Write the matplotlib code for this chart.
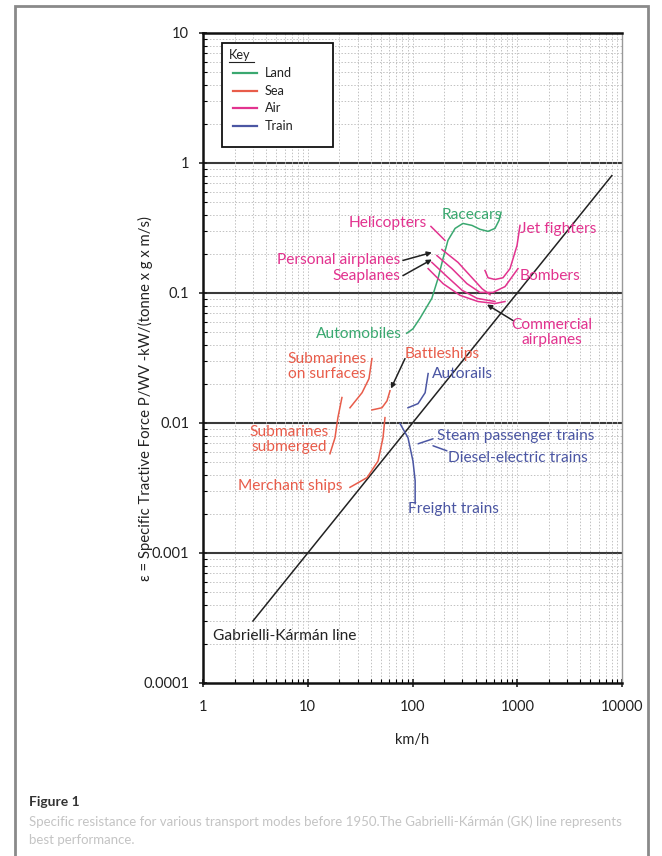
import numpy as np
import matplotlib
matplotlib.use("Agg")
import matplotlib.pyplot as plt
from matplotlib.lines import Line2D
from matplotlib.patches import Rectangle

plt.rcParams['font.family'] = ['Lato', 'DejaVu Sans']

# colours per transport mode
LAND = '#3aa870'
SEA = '#e85c4a'
AIR = '#e2338f'
TRAIN = '#4b56a3'

# ---- data (speed km/h, specific resistance) ----
# Gabrielli-Karman line
gk_speed = [3, 8000]
gk_eps = [0.0003, 0.8]

# land: automobiles running into racecars
auto_speed = [88, 101, 118, 153, 175, 196, 218, 255, 303, 370, 441, 526, 613, 670, 700]
auto_eps = [0.049, 0.053, 0.064, 0.091, 0.129, 0.185, 0.254, 0.314, 0.343, 0.331,
            0.309, 0.298, 0.314, 0.362, 0.417]

# air
heli_speed = [150, 204]
heli_eps = [0.325, 0.254]
air1_speed = [191, 272, 370, 461, 550]
air1_eps = [0.216, 0.172, 0.131, 0.108, 0.097]
bomber_speed = [171, 238, 331, 441, 587, 764, 1016]
bomber_eps = [0.194, 0.154, 0.118, 0.101, 0.101, 0.112, 0.154]
seaplane_speed = [153, 213, 297, 413, 613]
seaplane_eps = [0.172, 0.134, 0.105, 0.091, 0.086]
commercial_speed = [141, 196, 284, 422, 613, 764]
commercial_eps = [0.154, 0.118, 0.096, 0.086, 0.083, 0.086]
jet_speed = [492, 526, 613, 731, 853, 995, 1062]
jet_eps = [0.149, 0.131, 0.127, 0.131, 0.154, 0.232, 0.331]

# sea
sub_surf_speed = [25.3, 33.0, 38.4, 41.0]
sub_surf_eps = [0.0131, 0.0171, 0.0219, 0.0313]
sub_sub_speed = [21.2, 19.4, 18.2, 16.3]
sub_sub_eps = [0.0157, 0.0110, 0.0077, 0.0058]
battle_speed = [61.0, 57.1, 51.1, 41.0]
battle_eps = [0.0177, 0.0148, 0.0131, 0.0126]
merchant_speed = [54.6, 52.3, 46.9, 36.8, 25.3]
merchant_eps = [0.0110, 0.0077, 0.0051, 0.0038, 0.0032]

# train
autorail_speed = [141, 132, 113, 90.6]
autorail_eps = [0.0240, 0.0171, 0.0141, 0.0131]
freight_speed = [76.0, 90.6, 101, 106, 106]
freight_eps = [0.0099, 0.0077, 0.0051, 0.0036, 0.0024]

fig = plt.figure(figsize=(6.62, 8.56), dpi=100)
ax = fig.add_axes([203 / 662, 1 - 683 / 856, 419 / 662, 650 / 856])
ax.set_xscale('log')
ax.set_yscale('log')
ax.set_xlim(1, 10000)
ax.set_ylim(0.0001, 10)

# grid
ax.grid(which='minor', axis='both', color='#c2c2c2', lw=0.7, ls=(0, (1.5, 1.8)))
ax.grid(which='major', axis='x', color='#c2c2c2', lw=0.7, ls=(0, (1.5, 1.8)))
for yv in [1, 0.1, 0.01, 0.001]:
    ax.axhline(yv, color='#3a3a3a', lw=1.5, zorder=1)

ax.set_xticks([1, 10, 100, 1000, 10000], ['1', '10', '100', '1000', '10000'])
ax.set_yticks([0.0001, 0.001, 0.01, 0.1, 1, 10], ['0.0001', '0.001', '0.01', '0.1', '1', '10'])
ax.tick_params(which='major', direction='inout', length=6, width=1.2, labelsize=10.5,
               colors='#222222')
ax.tick_params(axis='x', which='major', pad=9)
ax.tick_params(axis='y', which='major', pad=7)
ax.tick_params(which='minor', direction='in', length=3, width=0.8)
for s in ['left', 'bottom', 'top']:
    ax.spines[s].set_linewidth(1.8)
    ax.spines[s].set_color('#111111')
ax.spines['right'].set_color('#999999')
ax.spines['right'].set_linewidth(1.0)

ax.set_xlabel('km/h', fontsize=10.5, color='#222222', labelpad=14)
fig.text(145 / 662, 1 - 399 / 856, 'ε = Specific Tractive Force P/WV -kW/(tonne x g x m/s)',
         fontsize=10.7, color='#222222', rotation=90, ha='center', va='center')

# curves
lw = 1.1
ax.plot(gk_speed, gk_eps, color='#222222', lw=1.1, zorder=3)
ax.plot(auto_speed, auto_eps, color=LAND, lw=lw, zorder=4)
for sp, ep in [(heli_speed, heli_eps), (air1_speed, air1_eps), (bomber_speed, bomber_eps),
               (seaplane_speed, seaplane_eps), (commercial_speed, commercial_eps),
               (jet_speed, jet_eps)]:
    ax.plot(sp, ep, color=AIR, lw=lw, zorder=4)
for sp, ep in [(sub_surf_speed, sub_surf_eps), (sub_sub_speed, sub_sub_eps),
               (battle_speed, battle_eps), (merchant_speed, merchant_eps)]:
    ax.plot(sp, ep, color=SEA, lw=lw, zorder=4)
for sp, ep in [(autorail_speed, autorail_eps), (freight_speed, freight_eps)]:
    ax.plot(sp, ep, color=TRAIN, lw=lw, zorder=4)

# labels
fs = 11.2
def lab(x, y, s, c, ha='left'):
    ax.text(x, y, s, color=c, fontsize=fs, ha=ha, va='center', zorder=5,
            linespacing=1.05)

lab(370, 0.396, 'Racecars', LAND, 'center')
lab(137, 0.343, 'Helicopters', AIR, 'right')
lab(1062, 0.308, 'Jet fighters', AIR)
lab(76, 0.178, 'Personal airplanes', AIR, 'right')
lab(76, 0.136, 'Seaplanes', AIR, 'right')
lab(1062, 0.134, 'Bombers', AIR)
lab(2147, 0.0496, 'Commercial\nairplanes', AIR, 'center')
lab(79, 0.0488, 'Automobiles', LAND, 'right')
lab(84.8, 0.0342, 'Battleships', SEA)
lab(15.3, 0.0271, 'Submarines\non surfaces', SEA, 'center')
lab(153, 0.0240, 'Autorails', TRAIN)
lab(6.62, 0.00743, 'Submarines\nsubmerged', SEA, 'center')
lab(171, 0.00797, 'Steam passenger trains', TRAIN)
lab(218, 0.00540, 'Diesel-electric trains', TRAIN)
lab(21.7, 0.00328, 'Merchant ships', SEA, 'right')
lab(90.6, 0.00218, 'Freight trains', TRAIN)
lab(1.25, 0.000229, 'Gabrielli-Kármán line', '#222222')

arrow = dict(arrowstyle='-|>', color='#222222', lw=1.1, mutation_scale=7,
             shrinkA=0, shrinkB=0)
ax.annotate('', xy=(153, 0.205), xytext=(81, 0.178), arrowprops=arrow, zorder=6)
ax.annotate('', xy=(153, 0.181), xytext=(81, 0.136), arrowprops=arrow, zorder=6)
ax.annotate('', xy=(514, 0.0815), xytext=(911, 0.0614), arrowprops=arrow, zorder=6)
ax.annotate('', xy=(62.3, 0.0184), xytext=(84.8, 0.0313), arrowprops=arrow, zorder=6)
lead = dict(arrowstyle='-', color=TRAIN, lw=1.1, shrinkA=0, shrinkB=0)
ax.annotate('', xy=(113, 0.00692), xytext=(157, 0.00756), arrowprops=lead)
ax.annotate('', xy=(157, 0.00668), xytext=(213, 0.00611), arrowprops=lead)

# key box
ax.add_patch(Rectangle((0.0453, 0.8246), 0.2647, 0.16, transform=ax.transAxes,
                       facecolor='white', edgecolor='#111111', lw=1.3, zorder=7))
ax.text(0.062, 0.966, 'Key', transform=ax.transAxes, fontsize=9.2, color='#222222',
        va='center', zorder=8)
ax.add_line(Line2D([0.062, 0.121], [0.955, 0.955], transform=ax.transAxes,
                   color='#222222', lw=0.8, zorder=8))
for yk, name, c in [(0.9385, 'Land', LAND), (0.9108, 'Sea', SEA),
                    (0.8846, 'Air', AIR), (0.8569, 'Train', TRAIN)]:
    ax.add_line(Line2D([0.0716, 0.1289], [yk, yk], transform=ax.transAxes,
                       color=c, lw=1.6, zorder=8))
    ax.text(0.148, yk, name, transform=ax.transAxes, fontsize=9.2, color='#222222',
            va='center', zorder=8)

# page frame and caption
frame = Rectangle((15 / 662, -0.05), 633 / 662, 1.05 - 6 / 856, transform=fig.transFigure,
                  facecolor='none', edgecolor='#8a8a8a', lw=2, clip_on=False)
fig.add_artist(frame)
fig.text(29 / 662, 1 - 802 / 856, 'Figure 1', fontsize=10, fontweight='bold',
         color='#333333', va='center')
fig.text(29 / 662, 1 - 822 / 856,
         'Specific resistance for various transport modes before 1950.The Gabrielli-Kármán (GK) line represents',
         fontsize=9.5, color='#c4c4c4', va='center')
fig.text(29 / 662, 1 - 840 / 856, 'best performance.', fontsize=9.5, color='#c4c4c4', va='center')

fig.savefig('out.png', dpi=100)
